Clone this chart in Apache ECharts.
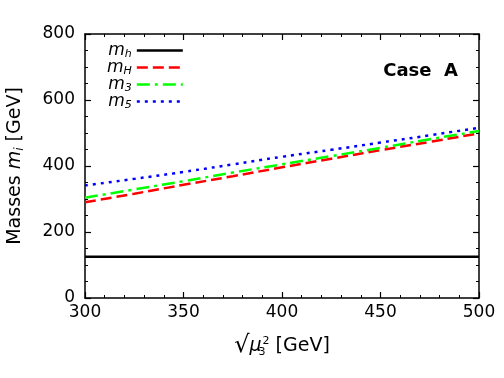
<!DOCTYPE html>
<html>
<head>
<meta charset="utf-8">
<script src="https://cdn.jsdelivr.net/npm/echarts@6/dist/echarts.min.js"></script>
<style>
  html, body { margin: 0; padding: 0; background: #fff; }
  #chart { width: 504px; height: 378px; }
</style>
</head>
<body>
<div id="chart"></div>
<script>
// sqrt(mu3^2) in GeV
const muVals = [300, 325, 350, 375, 400, 425, 450, 475, 500];
const mhVals = [125, 125, 125, 125, 125, 125, 125, 125, 125];
const mHVals = [290, 316, 343, 369, 396, 422, 448, 473, 499];
const m3Vals = [304, 329, 354, 380, 405, 430, 455, 481, 506];
const m5Vals = [341, 361, 382, 405, 428, 449, 471, 493, 516];
const seriesNames = ["mh", "mH", "m3", "m5"];
const legendLabels = {
  mh: "{i|m}{s|h}",
  mH: "{i|m}{s|H}",
  m3: "{i|m}{s|3}",
  m5: "{i|m}{s|5}",
};

const font = "DejaVu Sans";
const chart = echarts.init(document.getElementById("chart"), null, { renderer: "canvas" });

const pairs = vals => muVals.map((x, i) => [x, vals[i]]);

const tickCommon = {
  axisLine: { show: true, onZero: false, lineStyle: { color: "#000", width: 1.5 } },
  axisTick: { show: true, inside: true, length: 6, lineStyle: { color: "#000", width: 1.2 } },
  splitLine: { show: false },
};

const option = {
  animation: false,
  backgroundColor: "#fff",
  grid: { left: 85, right: 25, top: 34, bottom: 80, outerBoundsMode: "none" },
  title: {
    text: "Case  A",
    right: 41,
    top: 57,
    textStyle: { fontFamily: font, fontWeight: "bold", fontSize: 18, color: "#000" },
  },
  legend: {
    orient: "vertical",
    left: 102,
    top: 36,
    align: "right",
    itemWidth: 46,
    itemHeight: 10,
    itemGap: -2,
    data: seriesNames,
    itemStyle: { opacity: 0 },
    lineStyle: { width: 2.5 },
    formatter: name => legendLabels[name],
    textStyle: {
      fontFamily: font,
      color: "#000",
      rich: {
        i: { fontFamily: font, fontStyle: "italic", fontSize: 17, color: "#000", lineHeight: 15 },
        s: { fontFamily: font, fontStyle: "italic", fontSize: 11, color: "#000", lineHeight: 15, padding: [8, 0, 0, 0] },
      },
    },
  },
  xAxis: [
    {
      type: "value",
      min: 300,
      max: 500,
      interval: 50,
      position: "bottom",
      ...tickCommon,
      minorTick: { show: true, splitNumber: 5, length: 3, lineStyle: { color: "#000", width: 1 } },
      axisLabel: { fontFamily: font, fontSize: 17, color: "#000", margin: 6 },
      name: "{r|√}{o|μ}{sub|3}{sup|2} [GeV]",
      nameLocation: "middle",
      nameGap: 36,
      nameTextStyle: {
        fontFamily: font,
        fontSize: 19,
        color: "#000",
        rich: {
          r: { fontFamily: font, fontSize: 24, color: "#000" },
          o: { fontFamily: font, fontStyle: "italic", fontSize: 19, color: "#000" },
          sub: { fontFamily: font, fontSize: 11, color: "#000", width: 1, padding: [12, 0, 0, 0] },
          sup: { fontFamily: font, fontSize: 11, color: "#000", padding: [0, 0, 10, 0] },
        },
      },
    },
    {
      type: "value",
      min: 300,
      max: 500,
      interval: 50,
      position: "top",
      ...tickCommon,
      minorTick: { show: true, splitNumber: 5, length: 3, lineStyle: { color: "#000", width: 1 } },
      axisLabel: { show: false },
    },
  ],
  yAxis: [
    {
      type: "value",
      min: 0,
      max: 800,
      interval: 200,
      position: "left",
      ...tickCommon,
      minorTick: { show: true, splitNumber: 4, length: 3, lineStyle: { color: "#000", width: 1 } },
      axisLabel: { fontFamily: font, fontSize: 17, color: "#000", margin: 10 },
      name: "Masses {i|m}{s|i} [GeV]",
      nameLocation: "middle",
      nameGap: 59,
      nameTextStyle: {
        fontFamily: font,
        fontSize: 19,
        color: "#000",
        rich: {
          i: { fontFamily: font, fontStyle: "italic", fontSize: 19, color: "#000" },
          s: { fontFamily: font, fontStyle: "italic", fontSize: 12, color: "#000", padding: [9, 0, 0, 0] },
        },
      },
    },
    {
      type: "value",
      min: 0,
      max: 800,
      interval: 200,
      position: "right",
      ...tickCommon,
      minorTick: { show: true, splitNumber: 4, length: 3, lineStyle: { color: "#000", width: 1 } },
      axisLabel: { show: false },
    },
  ],
  series: [
    {
      name: "mh",
      type: "line",
      data: pairs(mhVals),
      symbol: "none",
      lineStyle: { color: "#000000", width: 2.3, type: "solid" },
      itemStyle: { color: "#000000" },
    },
    {
      name: "mH",
      type: "line",
      data: pairs(mHVals),
      symbol: "none",
      smooth: true,
      lineStyle: { color: "#ff0000", width: 2.5, type: [11, 5] },
      itemStyle: { color: "#ff0000" },
    },
    {
      name: "m3",
      type: "line",
      data: pairs(m3Vals),
      symbol: "none",
      smooth: true,
      lineStyle: { color: "#00ff00", width: 2.5, type: [13, 5, 3, 5] },
      itemStyle: { color: "#00ff00" },
    },
    {
      name: "m5",
      type: "line",
      data: pairs(m5Vals),
      symbol: "none",
      smooth: true,
      lineStyle: { color: "#0000ff", width: 2.5, type: [3, 5] },
      itemStyle: { color: "#0000ff" },
    },
  ],
};

chart.setOption(option);
</script>
</body>
</html>
